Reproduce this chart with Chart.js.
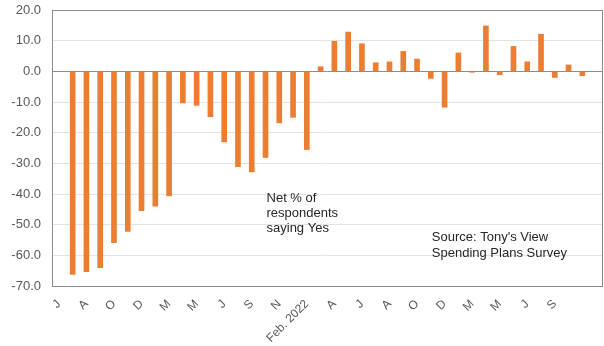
<!DOCTYPE html>
<html>
	<head>
		<meta charset="utf-8" />
		<script src="https://cdn.jsdelivr.net/npm/chart.js@4.4.1/dist/chart.umd.min.js"></script>
		<style>
			body {
				margin: 0;
				background: #ffffff;
			}
			#wrap {
				width: 604px;
				height: 346px;
				position: relative;
			}
		</style>
		<title>Spending Plans Survey</title>
	</head>
	<body>
		<div id="wrap">
			<canvas id="myChart"></canvas>
		</div>
		<script>
			// Category labels (one every two periods, blanks in between)
			var xLabels = [
				"J", "", "A", "", "O", "", "D", "", "M", "",
				"M", "", "J", "", "S", "", "N", "", "Feb. 2022", "",
				"A", "", "J", "", "A", "", "O", "", "D", "",
				"M", "", "M", "", "J", "", "S", "", "", "",
			];
			// Net % of respondents saying Yes
			var netYes = [
				null, -66.2, -65.3, -64.0, -55.9, -52.2, -45.4, -44.0, -40.6, -10.3,
				-11.1, -14.8, -23.0, -31.1, -32.8, -28.1, -16.8, -15.0, -25.5, 1.5,
				9.8, 12.8, 9.0, 2.8, 3.1, 6.5, 4.0, -2.3, -11.7, 6.0,
				-0.3, 14.8, -1.1, 8.1, 3.1, 12.1, -2.0, 2.1, -1.4, null,
			];
			var yTicksMin = -70;
			var yTicksMax = 20;
			var noteText = ["Net % of", "respondents", "saying Yes"];
			var sourceText = ["Source: Tony's View", "Spending Plans Survey"];

			// Box round the plot area plus the two text notes
			var boxAndNotes = {
				id: "boxAndNotes",
				afterDraw: function (chart) {
					var ctx = chart.ctx;
					var a = chart.chartArea;
					var xs = chart.scales.x;
					var ys = chart.scales.y;
					ctx.save();
					ctx.strokeStyle = "#8c8c8c";
					ctx.lineWidth = 1;
					ctx.strokeRect(
						Math.round(a.left) + 0.5,
						Math.round(a.top) + 0.5,
						Math.round(a.right - a.left) - 1,
						Math.round(a.bottom - a.top)
					);
					ctx.fillStyle = "#262626";
					ctx.font = "13px 'Liberation Sans', Arial, sans-serif";
					ctx.textAlign = "left";
					ctx.textBaseline = "middle";
					var nx = xs.getPixelForValue(15) + 1;
					noteText.forEach(function (t, i) {
						ctx.fillText(t, nx, ys.getPixelForValue(-41.3 - i * 4.9));
					});
					var sx = xs.getPixelForValue(27) + 1;
					sourceText.forEach(function (t, i) {
						ctx.fillText(t, sx, ys.getPixelForValue(-54.2 - i * 5.3));
					});
					ctx.restore();
				},
			};

			new Chart(document.getElementById("myChart").getContext("2d"), {
				type: "bar",
				data: {
					labels: xLabels,
					datasets: [
						{
							label: "Net % saying Yes",
							data: netYes,
							backgroundColor: "#ED7D31",
							barThickness: 5,
						},
					],
				},
				options: {
					responsive: true,
					maintainAspectRatio: false,
					animation: false,
					layout: {
						padding: { top: 10, right: 1, left: 0, bottom: 0 },
					},
					plugins: {
						legend: { display: false },
						tooltip: { enabled: false },
					},
					scales: {
						x: {
							grid: { display: false, drawTicks: false },
							border: { display: false },
							ticks: {
								autoSkip: false,
								maxRotation: 45,
								minRotation: 45,
								padding: 11,
								color: "#595959",
								font: { family: "'Liberation Sans', Arial", size: 12 },
							},
							afterFit: function (scale) {
								scale.height = 60;
								scale.paddingLeft = 0;
								scale.paddingRight = 0;
							},
						},
						y: {
							min: yTicksMin,
							max: yTicksMax,
							grid: {
								drawTicks: false,
								color: function (c) {
									return c.tick.value === 0 ? "#8c8c8c" : "#e3e3e3";
								},
							},
							border: { display: false },
							ticks: {
								stepSize: 10,
								padding: 11,
								color: "#595959",
								font: { family: "'Liberation Sans', Arial", size: 13 },
								callback: function (v) {
									return v.toFixed(1);
								},
							},
							afterFit: function (scale) {
								scale.width = 52;
								scale.paddingTop = 0;
								scale.paddingBottom = 0;
							},
						},
					},
				},
				plugins: [boxAndNotes],
			});
		</script>
	</body>
</html>
